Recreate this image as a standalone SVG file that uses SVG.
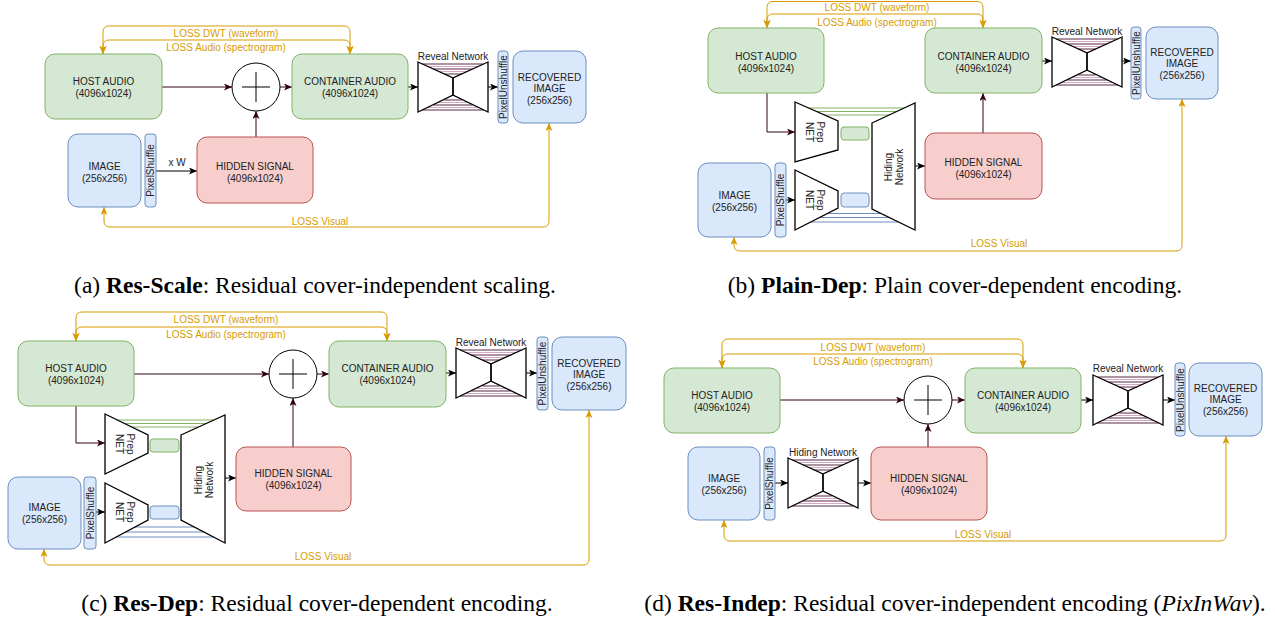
<svg xmlns="http://www.w3.org/2000/svg" xmlns:xlink="http://www.w3.org/1999/xlink" width="1275" height="622" viewBox="0 0 1275 622">
  <style>
    .g { fill: #d5e8d4; stroke: #82b366; stroke-width: 1; }
    .b { fill: #dae8fc; stroke: #6c8ebf; stroke-width: 1; }
    .r { fill: #f8cecc; stroke: #b85450; stroke-width: 1; }
    .net { fill: #ffffff; stroke: #000000; stroke-width: 1.3; stroke-linejoin: miter; }
    .sum { fill: #ffffff; stroke: #000000; stroke-width: 1; }
    .t { font-family: "Liberation Sans", Arial, sans-serif; font-size: 10px; fill: #222222; text-anchor: middle; }
    .lt { font-family: "Liberation Sans", Arial, sans-serif; font-size: 10px; fill: #d79b00; text-anchor: middle; }
    .cap { font-family: "Liberation Serif", "Times New Roman", serif; font-size: 23.5px; fill: #000000; text-anchor: middle; }
    .dk { fill: none; stroke: #33001a; stroke-width: 1; marker-end: url(#arDark); }
    .bk { fill: none; stroke: #000000; stroke-width: 1; marker-end: url(#arBlack); }
    .loss { fill: none; stroke: #d79b00; stroke-width: 1; marker-start: url(#arLoss); marker-end: url(#arLoss); }
    .skg { stroke: #82b366; stroke-width: 1; }
    .skb { stroke: #6c8ebf; stroke-width: 1; }
    .skd { stroke: #5a2848; stroke-width: 1; }
    .skp { stroke: #d3a8c2; stroke-width: 1; }
  </style>
  <defs>
    <marker id="arDark" markerUnits="userSpaceOnUse" markerWidth="9" markerHeight="8" refX="8" refY="3.5" orient="auto">
      <path d="M0,0 L8,3.5 L0,7 L2,3.5 Z" fill="#33001a"/>
    </marker>
    <marker id="arBlack" markerUnits="userSpaceOnUse" markerWidth="9" markerHeight="8" refX="8" refY="3.5" orient="auto">
      <path d="M0,0 L8,3.5 L0,7 L2,3.5 Z" fill="#000000"/>
    </marker>
    <marker id="arLoss" markerUnits="userSpaceOnUse" markerWidth="9" markerHeight="8" refX="8" refY="3.5" orient="auto-start-reverse">
      <path d="M0,0 L8,3.5 L0,7 L2,3.5 Z" fill="#d79b00"/>
    </marker>
    <!-- encoder/decoder hourglass with skip connections, 70 x 50 -->
    <g id="hg">
      <line class="skd" x1="4.4" y1="2" x2="65.6" y2="2"/>
      <line class="skp" x1="9.8" y1="4.5" x2="60.2" y2="4.5"/>
      <line class="skd" x1="15.3" y1="7" x2="54.7" y2="7"/>
      <line class="skp" x1="20.8" y1="9.5" x2="49.2" y2="9.5"/>
      <line class="skd" x1="26.3" y1="12" x2="43.7" y2="12"/>
      <line class="skd" x1="4.4" y1="48" x2="65.6" y2="48"/>
      <line class="skp" x1="9.8" y1="45.5" x2="60.2" y2="45.5"/>
      <line class="skd" x1="15.3" y1="43" x2="54.7" y2="43"/>
      <line class="skp" x1="20.8" y1="40.5" x2="49.2" y2="40.5"/>
      <line class="skd" x1="26.3" y1="38" x2="43.7" y2="38"/>
      <polygon class="net" style="fill:none" points="0,0 35,16 35,33 0,50"/>
      <polygon class="net" style="fill:none" points="70,0 35,16 35,33 70,50"/>
    </g>
  </defs>

  <rect width="1275" height="622" fill="#ffffff"/>

  <!-- ===================== (a) Res-Scale ===================== -->
  <g id="panel-a">
    <g id="a-edges">
      <path class="loss" d="M103,54 V32 Q103,26 109,26 H344 Q350,26 350,32 V54"/>
      <path class="loss" d="M103,54 V46 Q103,40 109,40 H344 Q350,40 350,46 V54"/>
      <path class="loss" d="M549,123 V221 Q549,227 543,227 H110 Q104,227 104,221 V207"/>
      <path class="dk" d="M162,87 H232"/>
      <path class="dk" d="M280,87 H292"/>
      <path class="dk" d="M256,137 V111"/>
      <path class="bk" d="M156,171 H197"/>
      <path class="bk" d="M408,87 H418"/>
      <path class="bk" d="M488,87 H498"/>
      <text class="lt" x="226" y="36.5">LOSS DWT (waveform)</text>
      <text class="lt" x="226" y="51">LOSS Audio (spectrogram)</text>
      <text class="lt" x="320" y="224.5">LOSS Visual</text>
      <text class="t" x="177" y="166">x W</text>
    </g>
    <g id="a-host">
      <rect class="g" x="45" y="54" width="117" height="65" rx="10"/>
      <text class="t" x="103.5" y="85">HOST AUDIO</text>
      <text class="t" x="103.5" y="97">(4096x1024)</text>
    </g>
    <g id="a-sum">
      <circle class="sum" cx="256" cy="87" r="24"/>
      <path d="M242,87 H270 M256,72 V102" stroke="#000" stroke-width="1"/>
    </g>
    <g id="a-container">
      <rect class="g" x="292" y="54" width="116" height="65" rx="10"/>
      <text class="t" x="350" y="85">CONTAINER AUDIO</text>
      <text class="t" x="350" y="97">(4096x1024)</text>
    </g>
    <g id="a-reveal">
      <use href="#hg" x="418" y="62"/>
      <text class="t" x="453" y="59.5">Reveal Network</text>
    </g>
    <g id="a-unshuffle">
      <rect class="b" x="498" y="51" width="10" height="72" rx="3"/>
      <text class="t" transform="translate(503,87) rotate(-90)" y="3.5">PixelUnshuffle</text>
    </g>
    <g id="a-recovered">
      <rect class="b" x="513" y="51" width="73" height="72" rx="10"/>
      <text class="t" x="549.5" y="80.5">RECOVERED</text>
      <text class="t" x="549.5" y="92">IMAGE</text>
      <text class="t" x="549.5" y="103.5">(256x256)</text>
    </g>
    <g id="a-image">
      <rect class="b" x="68" y="134" width="73" height="73" rx="10"/>
      <text class="t" x="104.5" y="169.5">IMAGE</text>
      <text class="t" x="104.5" y="181.5">(256x256)</text>
    </g>
    <g id="a-shuffle">
      <rect class="b" x="145" y="134" width="11" height="73" rx="3"/>
      <text class="t" transform="translate(150.5,170.5) rotate(-90)" y="3.5">PixelShuffle</text>
    </g>
    <g id="a-hidden">
      <rect class="r" x="197" y="137" width="116" height="66" rx="10"/>
      <text class="t" x="255" y="169.5">HIDDEN SIGNAL</text>
      <text class="t" x="255" y="181.5">(4096x1024)</text>
    </g>
    <text class="cap" x="315" y="293">(a) <tspan font-weight="bold">Res-Scale</tspan>: Residual cover-independent scaling.</text>
  </g>

  <!-- ===================== (b) Plain-Dep ===================== -->
  <g id="panel-b">
    <g id="b-edges">
      <path class="loss" d="M767,28 V7.5 Q767,1.5 773,1.5 H977 Q983,1.5 983,7.5 V28"/>
      <path class="loss" d="M767,28 V20 Q767,14 773,14 H977 Q983,14 983,20 V28"/>
      <path class="loss" d="M1182,99 V245 Q1182,251 1176,251 H740 Q734,251 734,245 V237"/>
      <path class="dk" d="M767,93 V132 H795"/>
      <path class="dk" d="M983,133 V93"/>
      <path class="bk" d="M786,200 H795"/>
      <path class="bk" d="M915,166 H925"/>
      <path class="bk" d="M1042,61 H1052"/>
      <path class="bk" d="M1122,61 H1131"/>
      <text class="lt" x="877" y="10.5">LOSS DWT (waveform)</text>
      <text class="lt" x="877" y="25.5">LOSS Audio (spectrogram)</text>
      <text class="lt" x="999" y="246.5">LOSS Visual</text>
    </g>
    <g id="b-host">
      <rect class="g" x="708" y="28" width="116" height="65" rx="10"/>
      <text class="t" x="766" y="59.5">HOST AUDIO</text>
      <text class="t" x="766" y="71.5">(4096x1024)</text>
    </g>
    <g id="b-skips">
      <line class="skg" x1="808.6" y1="108" x2="904.3" y2="108"/>
      <line class="skg" x1="816.5" y1="111.5" x2="896.7" y2="111.5"/>
      <line class="skg" x1="824.4" y1="115" x2="889.2" y2="115"/>
      <line class="skb" x1="827.3" y1="213.5" x2="881.2" y2="213.5"/>
      <line class="skb" x1="819" y1="217.5" x2="889.4" y2="217.5"/>
      <line class="skb" x1="810.6" y1="222" x2="898.6" y2="222"/>
    </g>
    <g id="b-prep-audio">
      <polygon class="net" points="795,102 838,121 838,150 795,162"/>
      <text class="t" transform="translate(814.5,132) rotate(90)"><tspan x="0" y="-2">Prep</tspan><tspan x="0" y="9">NET</tspan></text>
      <rect class="g" x="841" y="127" width="28" height="13" rx="3"/>
    </g>
    <g id="b-prep-image">
      <polygon class="net" points="795,170 838,191 838,208 795,230"/>
      <text class="t" transform="translate(814.5,200) rotate(90)"><tspan x="0" y="-2">Prep</tspan><tspan x="0" y="9">NET</tspan></text>
      <rect class="b" x="841" y="193" width="28" height="14" rx="3"/>
    </g>
    <g id="b-hiding">
      <polygon class="net" points="872,123 915,103 915,230 872,209"/>
      <text class="t" transform="translate(893.5,167) rotate(-90)"><tspan x="0" y="-2">Hiding</tspan><tspan x="0" y="9">Network</tspan></text>
    </g>
    <g id="b-image">
      <rect class="b" x="698" y="163" width="73" height="74" rx="10"/>
      <text class="t" x="734.5" y="198.5">IMAGE</text>
      <text class="t" x="734.5" y="210.5">(256x256)</text>
    </g>
    <g id="b-shuffle">
      <rect class="b" x="775" y="163" width="11" height="74" rx="3"/>
      <text class="t" transform="translate(780.5,200) rotate(-90)" y="3.5">PixelShuffle</text>
    </g>
    <g id="b-hidden">
      <rect class="r" x="925" y="133" width="117" height="66" rx="10"/>
      <text class="t" x="983.5" y="165.5">HIDDEN SIGNAL</text>
      <text class="t" x="983.5" y="177.5">(4096x1024)</text>
    </g>
    <g id="b-container">
      <rect class="g" x="925" y="28" width="117" height="65" rx="10"/>
      <text class="t" x="983.5" y="59.5">CONTAINER AUDIO</text>
      <text class="t" x="983.5" y="71.5">(4096x1024)</text>
    </g>
    <g id="b-reveal">
      <use href="#hg" x="1052" y="37"/>
      <text class="t" x="1087" y="35">Reveal Network</text>
    </g>
    <g id="b-unshuffle">
      <rect class="b" x="1131" y="27" width="10" height="72" rx="3"/>
      <text class="t" transform="translate(1136,63) rotate(-90)" y="3.5">PixelUnshuffle</text>
    </g>
    <g id="b-recovered">
      <rect class="b" x="1146" y="27" width="72" height="72" rx="10"/>
      <text class="t" x="1182" y="55.5">RECOVERED</text>
      <text class="t" x="1182" y="67">IMAGE</text>
      <text class="t" x="1182" y="78.5">(256x256)</text>
    </g>
    <text class="cap" x="955" y="293">(b) <tspan font-weight="bold">Plain-Dep</tspan>: Plain cover-dependent encoding.</text>
  </g>

  <!-- ===================== (c) Res-Dep ===================== -->
  <g id="panel-c">
    <g id="c-edges">
      <path class="loss" d="M76,341 V318 Q76,312 82,312 H381 Q387,312 387,318 V341"/>
      <path class="loss" d="M76,341 V333 Q76,327 82,327 H381 Q387,327 387,333 V341"/>
      <path class="loss" d="M589,410 V559 Q589,565 583,565 H50 Q44,565 44,559 V549"/>
      <path class="dk" d="M134,374 H269"/>
      <path class="dk" d="M317,374 H329"/>
      <path class="dk" d="M76,406 V443 H105"/>
      <path class="dk" d="M293,447 V398"/>
      <path class="bk" d="M96,512 H105"/>
      <path class="bk" d="M225,478 H236"/>
      <path class="bk" d="M446,373 H456"/>
      <path class="bk" d="M526,373 H537"/>
      <text class="lt" x="226" y="322.5">LOSS DWT (waveform)</text>
      <text class="lt" x="226" y="337.5">LOSS Audio (spectrogram)</text>
      <text class="lt" x="323" y="559.5">LOSS Visual</text>
    </g>
    <g id="c-host">
      <rect class="g" x="18" y="341" width="116" height="65" rx="10"/>
      <text class="t" x="76" y="371.5">HOST AUDIO</text>
      <text class="t" x="76" y="383.5">(4096x1024)</text>
    </g>
    <g id="c-sum">
      <circle class="sum" cx="293" cy="374" r="24"/>
      <path d="M279,374 H307 M293,359 V389" stroke="#000" stroke-width="1"/>
    </g>
    <g id="c-container">
      <rect class="g" x="329" y="341" width="117" height="66" rx="10"/>
      <text class="t" x="387.5" y="371.5">CONTAINER AUDIO</text>
      <text class="t" x="387.5" y="383.5">(4096x1024)</text>
    </g>
    <g id="c-reveal">
      <use href="#hg" x="456" y="348"/>
      <text class="t" x="491" y="346">Reveal Network</text>
    </g>
    <g id="c-unshuffle">
      <rect class="b" x="537" y="337" width="11" height="73" rx="3"/>
      <text class="t" transform="translate(542.5,373.5) rotate(-90)" y="3.5">PixelUnshuffle</text>
    </g>
    <g id="c-recovered">
      <rect class="b" x="552" y="337" width="74" height="73" rx="10"/>
      <text class="t" x="589" y="366.5">RECOVERED</text>
      <text class="t" x="589" y="378">IMAGE</text>
      <text class="t" x="589" y="389.5">(256x256)</text>
    </g>
    <g id="c-skips">
      <line class="skg" x1="117.3" y1="420" x2="213.5" y2="420"/>
      <line class="skg" x1="124.4" y1="423.5" x2="206.3" y2="423.5"/>
      <line class="skg" x1="131.6" y1="427" x2="198.6" y2="427"/>
      <line class="skb" x1="133.5" y1="527" x2="194.8" y2="527"/>
      <line class="skb" x1="124.4" y1="532" x2="204.5" y2="532"/>
      <line class="skb" x1="115.2" y1="537" x2="214.2" y2="537"/>
    </g>
    <g id="c-prep-audio">
      <polygon class="net" points="105,414 148,435 148,453 105,474"/>
      <text class="t" transform="translate(124.5,444) rotate(90)"><tspan x="0" y="-2">Prep</tspan><tspan x="0" y="9">NET</tspan></text>
      <rect class="g" x="150" y="439" width="29" height="13" rx="3"/>
    </g>
    <g id="c-prep-image">
      <polygon class="net" points="105,483 148,505 148,520 105,543"/>
      <text class="t" transform="translate(124.5,512) rotate(90)"><tspan x="0" y="-2">Prep</tspan><tspan x="0" y="9">NET</tspan></text>
      <rect class="b" x="150" y="506" width="29" height="13" rx="3"/>
    </g>
    <g id="c-hiding">
      <polygon class="net" points="181,435 225,415 225,543 181,520"/>
      <text class="t" transform="translate(204,480) rotate(-90)"><tspan x="0" y="-2">Hiding</tspan><tspan x="0" y="9">Network</tspan></text>
    </g>
    <g id="c-image">
      <rect class="b" x="8" y="477" width="73" height="72" rx="10"/>
      <text class="t" x="44.5" y="510.5">IMAGE</text>
      <text class="t" x="44.5" y="523">(256x256)</text>
    </g>
    <g id="c-shuffle">
      <rect class="b" x="84" y="477" width="12" height="72" rx="3"/>
      <text class="t" transform="translate(90,513) rotate(-90)" y="3.5">PixelShuffle</text>
    </g>
    <g id="c-hidden">
      <rect class="r" x="236" y="447" width="115" height="64" rx="10"/>
      <text class="t" x="293.5" y="476.5">HIDDEN SIGNAL</text>
      <text class="t" x="293.5" y="489">(4096x1024)</text>
    </g>
    <text class="cap" x="317" y="611">(c) <tspan font-weight="bold">Res-Dep</tspan>: Residual cover-dependent encoding.</text>
  </g>

  <!-- ===================== (d) Res-Indep ===================== -->
  <g id="panel-d">
    <g id="d-edges">
      <path class="loss" d="M722,368 V345 Q722,339 728,339 H1017 Q1023,339 1023,345 V368"/>
      <path class="loss" d="M722,368 V360 Q722,354 728,354 H1017 Q1023,354 1023,360 V368"/>
      <path class="loss" d="M1226,436 V535 Q1226,541 1220,541 H730 Q724,541 724,535 V520"/>
      <path class="dk" d="M780,400 H904"/>
      <path class="dk" d="M952,400 H965"/>
      <path class="dk" d="M928,447 V424"/>
      <path class="bk" d="M775,483 H788"/>
      <path class="bk" d="M858,483 H871"/>
      <path class="bk" d="M1081,400 H1093"/>
      <path class="bk" d="M1163,400 H1175"/>
      <text class="lt" x="873" y="350.5">LOSS DWT (waveform)</text>
      <text class="lt" x="873" y="364.5">LOSS Audio (spectrogram)</text>
      <text class="lt" x="983" y="537.5">LOSS Visual</text>
    </g>
    <g id="d-host">
      <rect class="g" x="664" y="368" width="116" height="65" rx="10"/>
      <text class="t" x="722" y="398.5">HOST AUDIO</text>
      <text class="t" x="722" y="410.5">(4096x1024)</text>
    </g>
    <g id="d-sum">
      <circle class="sum" cx="928" cy="400" r="24"/>
      <path d="M914,400 H942 M928,385 V415" stroke="#000" stroke-width="1"/>
    </g>
    <g id="d-container">
      <rect class="g" x="965" y="368" width="116" height="65" rx="10"/>
      <text class="t" x="1023" y="398.5">CONTAINER AUDIO</text>
      <text class="t" x="1023" y="410.5">(4096x1024)</text>
    </g>
    <g id="d-reveal">
      <use href="#hg" x="1093" y="375"/>
      <text class="t" x="1128" y="371.5">Reveal Network</text>
    </g>
    <g id="d-unshuffle">
      <rect class="b" x="1175" y="363" width="10" height="73" rx="3"/>
      <text class="t" transform="translate(1180,400) rotate(-90)" y="3.5">PixelUnshuffle</text>
    </g>
    <g id="d-recovered">
      <rect class="b" x="1189" y="363" width="73" height="73" rx="10"/>
      <text class="t" x="1225.5" y="391.5">RECOVERED</text>
      <text class="t" x="1225.5" y="403">IMAGE</text>
      <text class="t" x="1225.5" y="415">(256x256)</text>
    </g>
    <g id="d-image">
      <rect class="b" x="688" y="447" width="72" height="73" rx="10"/>
      <text class="t" x="724" y="481.5">IMAGE</text>
      <text class="t" x="724" y="493.5">(256x256)</text>
    </g>
    <g id="d-shuffle">
      <rect class="b" x="764" y="447" width="11" height="73" rx="3"/>
      <text class="t" transform="translate(769.5,483.5) rotate(-90)" y="3.5">PixelShuffle</text>
    </g>
    <g id="d-hiding">
      <use href="#hg" x="788" y="458"/>
      <text class="t" x="823" y="455.5">Hiding Network</text>
    </g>
    <g id="d-hidden">
      <rect class="r" x="871" y="447" width="116" height="73" rx="10"/>
      <text class="t" x="929" y="481.5">HIDDEN SIGNAL</text>
      <text class="t" x="929" y="493.5">(4096x1024)</text>
    </g>
    <text class="cap" x="955" y="611">(d) <tspan font-weight="bold">Res-Indep</tspan>: Residual cover-independent encoding (<tspan font-style="italic">PixInWav</tspan>).</text>
  </g>
</svg>
